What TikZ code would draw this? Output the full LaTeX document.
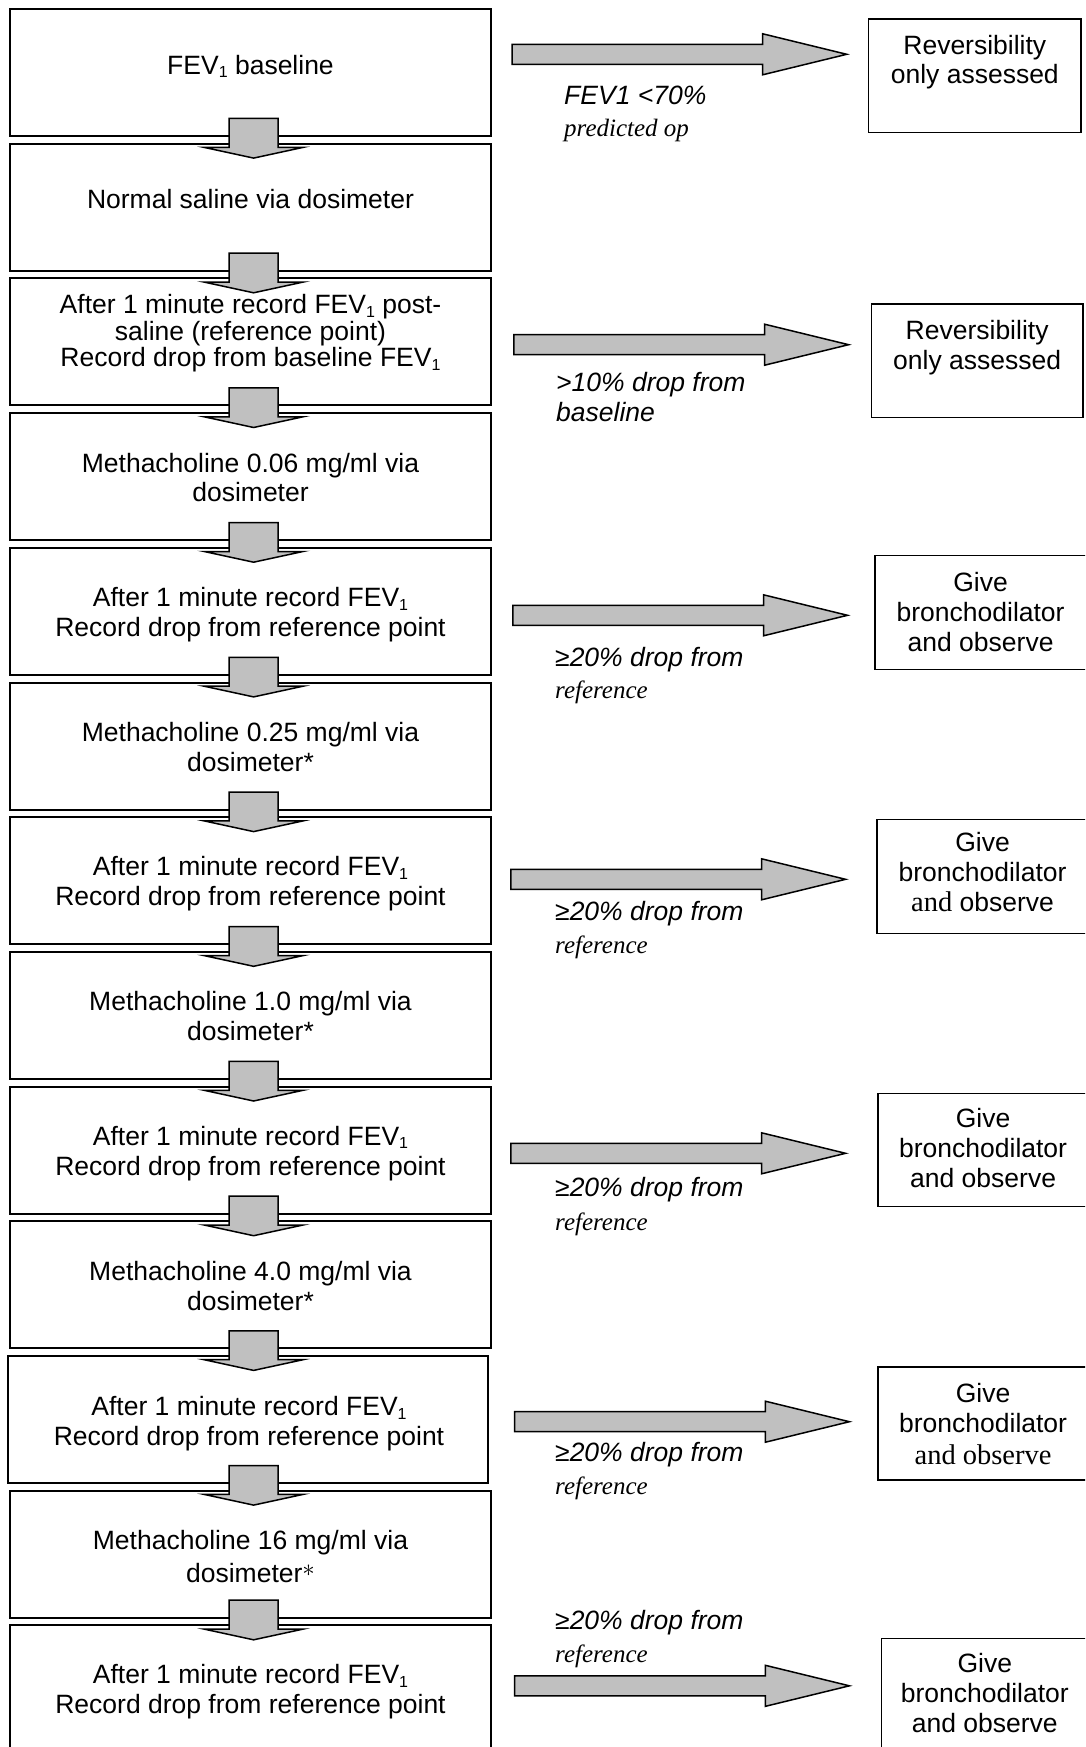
\documentclass[tikz,border=0pt]{standalone}
\usepackage{fontspec}
\setmainfont{Liberation Sans}
\newfontfamily\gfont{Liberation Serif}
\usetikzlibrary{calc}

\definecolor{arrowgray}{RGB}{192,192,192}

% subscript "1" of FEV1
\newcommand\subone{\raisebox{-3.5pt}{\fontsize{16}{16}\selectfont 1}}
% fixed-height strut so that a node's north edge sits 22pt above its first baseline
\newcommand\firstln{\rule{0pt}{22pt}}
\newcommand\bodyfont{\fontsize{26.5}{30}\selectfont}
\newcommand\condfont{\fontsize{26.5}{33}\selectfont\itshape}
\newcommand\noteserif{\gfont\itshape\fontsize{25}{33}\selectfont}
\newcommand\serifwords[1]{{\gfont\fontsize{28.5}{30}\selectfont #1}}

\tikzset{
  stepbox/.style={draw, line width=2pt, minimum width=480.4pt, minimum height=127pt, inner sep=0pt},
  outbox/.style={draw, line width=1.5pt, inner sep=0pt},
  boxtext/.style={anchor=north, inner sep=0pt, align=center, font=\bodyfont},
  cond/.style={anchor=north west, inner sep=0pt, align=left, font=\condfont},
  blockarrow/.style={draw, line width=1.5pt, fill=arrowgray, line join=miter},
}

% wide grey arrow pointing down from one step box into the next
\newcommand\downblock[2]{%
  \draw[blockarrow]
    ($(axis |- #1.south)+(-24.6,-18.5)$) --
    ($(axis |- #2.north)+(-24.6,4.7)$) --
    ($(axis |- #2.north)+(-49.4,4.7)$) --
    ($(axis |- #2.north)+(0,15.4)$) --
    ($(axis |- #2.north)+(49.4,4.7)$) --
    ($(axis |- #2.north)+(24.6,4.7)$) --
    ($(axis |- #1.south)+(24.6,-18.5)$) -- cycle;}

% wide grey arrow pointing right, from tail coordinate to tip coordinate
\newcommand\rightblock[2]{%
  \draw[blockarrow]
    ($(#1)+(0,-10)$) --
    ($(#2)+(-84,-10)$) --
    ($(#2)+(-84,-20.5)$) --
    (#2) --
    ($(#2)+(-84,20.5)$) --
    ($(#2)+(-84,10)$) --
    ($(#1)+(0,10)$) -- cycle;}

\begin{document}
\begin{tikzpicture}[x=1pt,y=-1pt]
\useasboundingbox (0,0) rectangle (1085,1747);
\clip (0,0) rectangle (1085,1747);
\coordinate (axis) at (253.6,0);

% ---- protocol steps ----
\node[stepbox] (s1)  at (250.5,72.5)   {};
\node[stepbox] (s2)  at (250.5,207.2)  {};
\node[stepbox] (s3)  at (250.5,341.9)  {};
\node[stepbox] (s4)  at (250.5,476.6)  {};
\node[stepbox] (s5)  at (250.5,611.3)  {};
\node[stepbox] (s6)  at (250.5,746.0)  {};
\node[stepbox] (s7)  at (250.5,880.7)  {};
\node[stepbox] (s8)  at (250.5,1015.4) {};
\node[stepbox] (s9)  at (250.5,1150.1) {};
\node[stepbox] (s10) at (250.5,1284.8) {};
\node[stepbox, minimum width=480.7pt] (s11) at (248,1419.5) {};
\node[stepbox] (s12) at (250.5,1554.2) {};
\node[stepbox] (s13) at (250.5,1688.9) {};

\node[boxtext] (s1t) at ($(s1.north)+(0,44)$) {\firstln FEV\subone{} baseline};
\node[boxtext] (s2t) at ($(s2.north)+(0,44)$) {\firstln Normal saline via dosimeter};
\node[boxtext, font=\fontsize{26.5}{26.5}\selectfont] (s3t) at ($(s3.north)+(0,14)$)
  {\firstln After 1 minute record FEV\subone{} post-\\saline (reference point)\\Record drop from baseline FEV\subone};
\node[boxtext, font=\fontsize{26.5}{29}\selectfont] (s4t) at ($(s4.north)+(0,38)$)
  {\firstln Methacholine 0.06 mg/ml via\\dosimeter};
\node[boxtext] (s5t) at ($(s5.north)+(0,37.5)$)
  {\firstln After 1 minute record FEV\subone\\Record drop from reference point};
\node[boxtext] (s6t) at ($(s6.north)+(0,37.5)$)
  {\firstln Methacholine 0.25 mg/ml via\\dosimeter*};
\node[boxtext] (s7t) at ($(s7.north)+(0,37.5)$)
  {\firstln After 1 minute record FEV\subone\\Record drop from reference point};
\node[boxtext] (s8t) at ($(s8.north)+(0,37.5)$)
  {\firstln Methacholine 1.0 mg/ml via\\dosimeter*};
\node[boxtext] (s9t) at ($(s9.north)+(0,37.5)$)
  {\firstln After 1 minute record FEV\subone\\Record drop from reference point};
\node[boxtext] (s10t) at ($(s10.north)+(0,38)$)
  {\firstln Methacholine 4.0 mg/ml via\\dosimeter*};
\node[boxtext] (s11t) at ($(s11.north)+(1,38.5)$)
  {\firstln After 1 minute record FEV\subone\\Record drop from reference point};
\node[boxtext, font=\fontsize{26.5}{33}\selectfont] (s12t) at ($(s12.north)+(0,37.3)$)
  {\firstln Methacholine 16 mg/ml via\\dosimeter\raisebox{5.5pt}{$\ast$}};
\node[boxtext] (s13t) at ($(s13.north)+(0,37.3)$)
  {\firstln After 1 minute record FEV\subone\\Record drop from reference point};

% ---- outcome boxes ----
\node[outbox, minimum width=212.2pt, minimum height=113.3pt] (r1) at (974.8,75.65)  {};
\node[outbox, minimum width=211.4pt, minimum height=113.3pt] (r2) at (977.1,360.65) {};
\node[outbox, minimum width=212.8pt, minimum height=114pt]   (r3) at (981.6,612.3)  {};
\node[outbox, minimum width=211pt,   minimum height=113.8pt] (r4) at (982.5,876.4)  {};
\node[outbox, minimum width=209.8pt, minimum height=113.4pt] (r5) at (983.1,1150)   {};
\node[outbox, minimum width=209.8pt, minimum height=113pt]   (r6) at (983.1,1423.5) {};
\node[outbox, minimum width=206.4pt, minimum height=113.7pt] (r7) at (984.8,1695.2) {};

\node[boxtext, font=\fontsize{26.5}{29}\selectfont] (r1t) at ($(r1.north)+(0,14)$) {\firstln Reversibility\\only assessed};
\node[boxtext] (r2t) at ($(r2.north)+(0,14)$) {\firstln Reversibility\\only assessed};
\node[boxtext] (r3t) at ($(r3.north)+(-1,14.4)$) {\firstln Give\\bronchodilator\\and observe};
\node[boxtext] (r4t) at ($(r4.north)+(0,11)$) {\firstln Give\\bronchodilator\\\serifwords{and} observe};
\node[boxtext] (r5t) at ($(r5.north)+(0,13)$) {\firstln Give\\bronchodilator\\and observe};
\node[boxtext] (r6t) at ($(r6.north)+(0,14.3)$) {\firstln Give\\bronchodilator\\[2pt]\serifwords{and observe}};
\node[boxtext] (r7t) at ($(r7.north)+(0,13)$) {\firstln Give\\bronchodilator\\and observe};

% ---- conditions ----
\node[cond] (c1) at (564,82.3)   {\firstln FEV1 <70\%\\[-0.6pt]{\noteserif predicted op}};
\node[cond] (c2) at (556,369)    {\firstln >10\% drop from\\[-2.3pt]baseline};
\node[cond] (c3) at (555,644.7)  {\firstln ≥20\% drop from\\[-1.4pt]{\noteserif reference}};
\node[cond] (c4) at (555,898)    {\firstln ≥20\% drop from\\{\noteserif reference}};
\node[cond] (c5) at (555,1174.7) {\firstln ≥20\% drop from\\[1pt]{\noteserif reference}};
\node[cond] (c6) at (555,1439.7) {\firstln ≥20\% drop from\\{\noteserif reference}};
\node[cond] (c7) at (555,1607.3) {\firstln ≥20\% drop from\\{\noteserif reference}};

% ---- downward flow arrows ----
\downblock{s1}{s2}
\downblock{s2}{s3}
\downblock{s3}{s4}
\downblock{s4}{s5}
\downblock{s5}{s6}
\downblock{s6}{s7}
\downblock{s7}{s8}
\downblock{s8}{s9}
\downblock{s9}{s10}
\downblock{s10}{s11}
\downblock{s11}{s12}
\downblock{s12}{s13}

% ---- arrows to outcomes ----
\coordinate (t1) at (512,54.3);    \coordinate (h1) at (846.7,54.3);
\coordinate (t2) at (513.9,344.7); \coordinate (h2) at (848.6,344.7);
\coordinate (t3) at (512.8,615.3); \coordinate (h3) at (847.5,615.3);
\coordinate (t4) at (510.9,879.3); \coordinate (h4) at (845.6,879.3);
\coordinate (t5) at (510.9,1153.3);\coordinate (h5) at (845.6,1153.3);
\coordinate (t6) at (514.7,1421.7);\coordinate (h6) at (849.4,1421.7);
\coordinate (t7) at (514.7,1685.8);\coordinate (h7) at (849.4,1685.8);
\rightblock{t1}{h1}
\rightblock{t2}{h2}
\rightblock{t3}{h3}
\rightblock{t4}{h4}
\rightblock{t5}{h5}
\rightblock{t6}{h6}
\rightblock{t7}{h7}
\end{tikzpicture}
\end{document}
